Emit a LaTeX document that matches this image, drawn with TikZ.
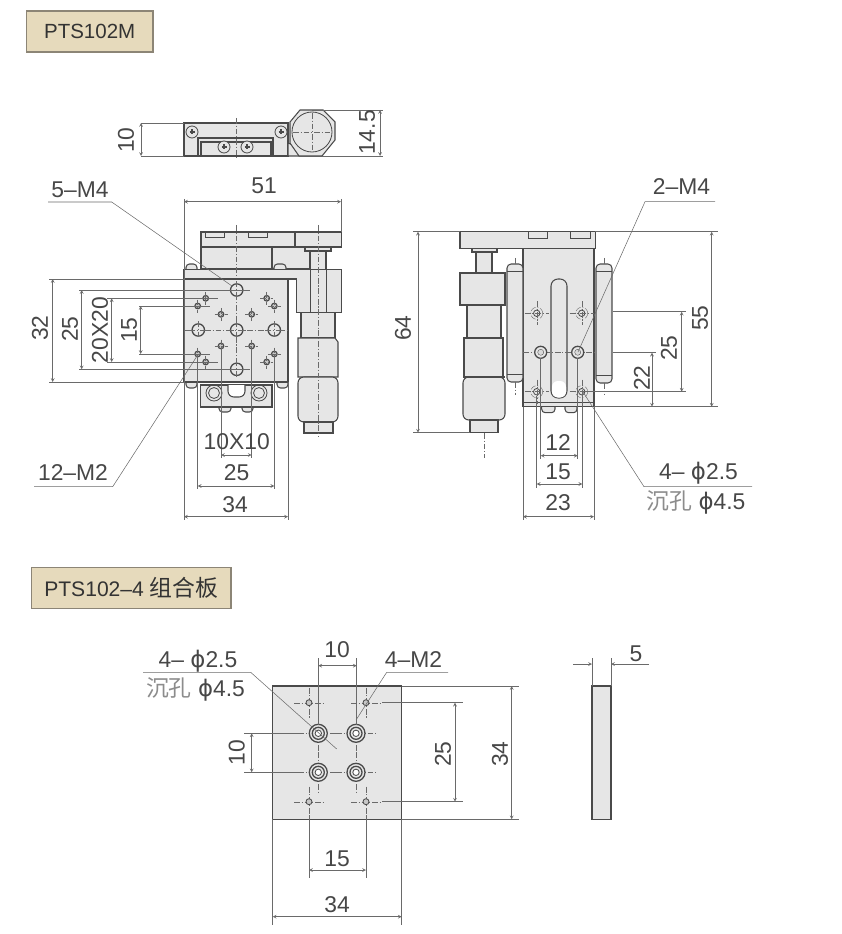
\documentclass[tikz,border=0pt]{standalone}
\usepackage{fontspec}
\setmainfont{Liberation Sans}
\newfontfamily\cjkfont{Noto Sans CJK SC}
\newfontfamily\symfont{DejaVu Sans}
\usetikzlibrary{arrows}
\definecolor{tagfill}{HTML}{E6DABC}
\definecolor{tagline}{HTML}{8C8576}
\definecolor{partfill}{HTML}{E6E6E6}
\definecolor{partline}{HTML}{4A4A4A}
\definecolor{dimcolor}{HTML}{6A6A6A}
\tikzstyle{tag} = [draw=tagline, line width=1.2pt, fill=tagfill, anchor=west, text=black!80, font=\fontsize{17.5}{20}\selectfont, inner sep=0, minimum height=34.8pt]
\tikzstyle{part} = [draw=partline, line width=0.9pt, fill=partfill]
\tikzstyle{edgeline} = [draw=partline, line width=0.7pt]
\tikzstyle{dimline} = [draw=dimcolor, line width=0.45pt, stealth-stealth]
\tikzstyle{extline} = [draw=dimcolor, line width=0.45pt]
\tikzstyle{centerline} = [draw=dimcolor, line width=0.35pt, dash pattern=on 5pt off 1.5pt on 1pt off 1.5pt]
\tikzstyle{dimtext} = [text=black!72, font=\fontsize{19.5}{22}\selectfont, inner sep=0]
\tikzstyle{dimup} = [dimtext, rotate=90]
\tikzstyle{holelarge} = [draw=partline, line width=1.1pt, fill=partfill]
\tikzstyle{holesmall} = [draw=partline, line width=1pt, fill=black!22]
\newcommand{\crossmark}[3]{\draw[centerline] (#1-#3,#2) -- (#1+#3,#2) (#1,#2-#3) -- (#1,#2+#3);}
\begin{document}
\begin{tikzpicture}[x=0.03cm, y=-0.03cm]
\useasboundingbox (0,0) rectangle (841,934);

% Title tags

\node[tag, minimum width=108pt] (tagslide) at (25.7,31.5) {PTS102M};
\node[tag, minimum width=170pt, font=\fontsize{18}{20}\selectfont] (tagplate) at (31,588) {PTS102--4 {\fontsize{19.5}{20}\selectfont\cjkfont 组合板}};

% Top view

\draw[part] (184,123) -- (288,123) -- (288,156) -- (184,156) -- cycle;
\draw[part] (198,138) rectangle (273,156);
\draw[part] (201,142) rectangle (271,156);
\draw[part] (288,143) -- (322,156) -- (288,156) -- cycle;
\draw[part] (300,110) -- (323,110) -- (335,122) -- (335,140) -- (322,156) -- (299,156) -- (290,143) -- (290,122) -- cycle;
\draw[edgeline] (312,132) circle (20);
\foreach \px/\py in {192/132, 281/132, 224/147, 247/147} {
  \draw[holelarge, line width=0.7pt] (\px,\py) circle (6);
  \draw[partline, line width=1pt] (\px-2.5,\py) -- (\px+2.5,\py) (\px,\py-2.5) -- (\px,\py+2.5);
}
\draw[centerline] (236.7,118) -- (236.7,160);
\crossmark{312}{132}{19}

% Front view, fixed part and stage

\draw[part] (201,232) rectangle (295,247);
\draw[part] (295,232) rectangle (341.7,247);
\draw[edgeline] (205,232) -- (205,237) -- (224,237) -- (224,232) (248,232) -- (248,237) -- (267,237) -- (267,232);
\draw[part] (201,247) rectangle (272,269);
\draw[part] (272,247) rectangle (310,269);
\draw[part] (305,247) rectangle (331,251);
\draw[part, rounded corners=3pt] (186,269) -- (186,264) -- (197,264) -- (197,269);
\draw[part, rounded corners=3pt] (274,269) -- (274,264) -- (286,264) -- (286,269);
\draw[part] (310,251) rectangle (326,270);
\draw[part] (184,269.3) -- (341.7,269.3) -- (341.7,312.7) -- (296.7,312.7) -- (296.7,279) -- (184,279) -- cycle;
\draw[edgeline] (310,269.3) -- (310,312.7) (326,269.3) -- (326,312.7);

% Front view, micrometer

\draw[part] (301,312.7) rectangle (335,338);
\draw[part] (298,338) -- (335,338) -- (338,342) -- (338,377) -- (298,377) -- (298,342) -- cycle;
\draw[part, rounded corners=5pt] (298,377) -- (338,377) -- (338,422) -- (298,422) -- cycle;
\draw[part] (304,422) -- (333,422) -- (333,433) -- (304,433) -- cycle;
\draw[centerline] (317.7,225) -- (317.7,437);

% Front view, lower block

\draw[part, rounded corners=3pt] (186,382) -- (186,388) -- (197,388) -- (197,382);
\draw[part, rounded corners=3pt] (277,382) -- (277,388) -- (288,388) -- (288,382);
\draw[part, rounded corners=3pt] (219,405) -- (219,412) -- (231,412) -- (231,405);
\draw[part, rounded corners=3pt] (242,405) -- (242,412) -- (253,412) -- (253,405);
\draw[part] (200.7,385) rectangle (272,407);
\draw[part, fill=white, rounded corners=5pt] (228,385) -- (228,397) -- (245,397) -- (245,385);
\foreach \px in {214,259} {
  \draw[edgeline] (\px,393) circle (8);
  \draw[edgeline] (\px,393) circle (5.5);
}

% Front view, top plate and holes

\draw[part] (184,279) rectangle (288,382);
\draw[centerline] (236.7,225) -- (236.7,277);
\draw[centerline] (236.7,284) -- (236.7,376);
\draw[centerline] (184,330) -- (288,330);
\foreach \px/\py in {236.7/290, 236.7/369.3, 198.3/330, 274.3/330, 236.7/330} {
  \draw[holelarge] (\px,\py) circle (6.2);
  \crossmark{\px}{\py}{9}
}
\foreach \px/\py in {205.7/298.3, 197.7/306, 221/314.3, 251.7/314.3, 266.7/298.3, 274.3/306, 221/346, 251.7/346, 197.7/354, 205.7/362, 266.7/362, 274.3/354} {
  \draw[holesmall] (\px,\py) circle (2.8);
  \crossmark{\px}{\py}{6.5}
}

% Front view, dimensions

\draw[extline] (184,199) -- (184,520) (341,199) -- (341,232);
\draw[dimline] (184,201.7) -- (341,201.7);
\node[dimtext] (dimwidth) at (264,186) {51};
\draw[extline] (49,279) -- (184,279) (49,382) -- (184,382);
\draw[dimline] (52.7,279) -- (52.7,382);
\node[dimup] (dimdepth) at (40,328) {32};
\draw[extline] (79,290) -- (250,290) (79,369.3) -- (250,369.3);
\draw[dimline] (81.7,290) -- (81.7,369.3);
\node[dimup] (dimpitchy) at (70,329) {25};
\draw[extline] (107,298.3) -- (218,298.3) (107,362) -- (218,362);
\draw[dimline] (111.7,298.3) -- (111.7,362);
\node[dimup] (dimgrid) at (100,330) {20X20};
\draw[extline] (139,306) -- (210,306) (139,354) -- (210,354);
\draw[dimline] (140.7,306) -- (140.7,354);
\node[dimup] (dimsmall) at (129,330) {15};
\draw[extline] (221,346) -- (221,458) (251.7,346) -- (251.7,458);
\draw[dimline] (221,455) -- (251.7,455);
\node[dimtext] (dimgridx) at (236.7,441.7) {10X10};
\draw[extline] (197.7,354) -- (197.7,489) (274.3,354) -- (274.3,489);
\draw[dimline] (197.7,486) -- (274.3,486);
\node[dimtext] (dimpitchx) at (236.7,473) {25};
\draw[extline] (288,382) -- (288,520);
\draw[dimline] (184,516.7) -- (288,516.7);
\node[dimtext] (dimside) at (235,504.5) {34};
\draw[extline] (141,123) -- (184,123) (141,156) -- (184,156);
\draw[dimline] (141,123) -- (141,156);
\node[dimup] (dimthick) at (126,140) {10};
\draw[extline] (312,110) -- (383,110) (322,156) -- (383,156);
\draw[dimline] (380,110) -- (380,156);
\node[dimup] (dimheight) at (367,132.5) {14.5};

% Front view, callouts

\node[dimtext] (callfive) at (80,190) {5--M4};
\coordinate (callfiveelbow) at (111.7,202);
\coordinate (callfivetip) at (232,286);
\draw[extline] (48,202) -- (callfiveelbow) -- (callfivetip);
\node[dimtext] (calltwelve) at (73,473) {12--M2};
\coordinate (calltwelveelbow) at (112.7,486.7);
\coordinate (calltwelvetip) at (197.7,355);
\draw[extline] (34,486.7) -- (calltwelveelbow) -- (calltwelvetip);

% Side view, micrometer

\draw[part] (472,248) rectangle (497,252);
\draw[part] (476,252) rectangle (492,273);
\draw[part] (460,273) rectangle (505,305);
\draw[part] (467,305) rectangle (501,338);
\draw[part] (464,338) rectangle (503,377);
\draw[part, rounded corners=5pt] (463,377) -- (505,377) -- (505,420) -- (463,420) -- cycle;
\draw[part] (470,420) -- (498,420) -- (498,432.7) -- (470,432.7) -- cycle;
\draw[line width=1.4pt, draw=partline] (463,377) -- (505,377);
\draw[centerline] (484,433) -- (484,458);

% Side view, body

\draw[part] (460,231.7) rectangle (595.7,248.3);
\draw[edgeline] (528,232) -- (528,238) -- (547,238) -- (547,232) (570,232) -- (570,238) -- (590,238) -- (590,232);
\draw[part, rounded corners=3pt] (541.7,405) -- (541.7,412.7) -- (555,412.7) -- (555,405);
\draw[part, rounded corners=3pt] (565,405) -- (565,412.7) -- (577,412.7) -- (577,405);
\draw[part] (523,248.3) rectangle (594,406.7);
\draw[edgeline] (523,402) -- (594,402);
\draw[part, rounded corners=3.5pt] (507,264) rectangle (523,382);
\draw[part, rounded corners=3.5pt] (596,264) rectangle (612,383);
\draw[edgeline] (507,271) -- (523,271) (507,374) -- (523,374) (596,271) -- (612,271) (596,375) -- (612,375);
\draw[part, rounded corners=6pt] (551,279) rectangle (567,398);
\draw[part, draw=none, fill=white, rounded corners=5pt] (552,381) rectangle (566,397.5);
\draw[centerline] (515,258) -- (515,264) (604,258) -- (604,264) (515,382) -- (515,395) (604,383) -- (604,395);
\draw[centerline] (523,352.3) -- (594,352.3);
\foreach \px/\py in {536.7/313.3, 581.7/313.3, 536.7/391.7, 581.7/391.7} {
  \draw[centerline] (\px,\py) circle (6);
  \draw[edgeline] (\px,\py) circle (3.2);
  \crossmark{\px}{\py}{12}
}
\foreach \px in {540.7,577.7} {
  \draw[holelarge] (\px,352.3) circle (6);
  \draw[fill=black!15, draw=partline, line width=0.3pt] (\px,352.3) circle (3);
}

% Side view, dimensions

\draw[extline] (413,231.7) -- (460,231.7) (413,432.7) -- (470,432.7);
\draw[dimline] (418,231.7) -- (418,432.7);
\node[dimup] (dimtotal) at (403,328) {64};
\draw[extline] (595,231.7) -- (718,231.7) (594,406.7) -- (718,406.7);
\draw[dimline] (711.7,231.7) -- (711.7,406.7);
\node[dimup] (dimrail) at (700,318) {55};
\draw[extline] (613,311.7) -- (686,311.7) (586,391.7) -- (686,391.7);
\draw[dimline] (681.7,311.7) -- (681.7,391.7);
\node[dimup] (dimholes) at (669,348) {25};
\draw[extline] (613,352.7) -- (656,352.7);
\draw[dimline] (652,352.7) -- (652,406.7);
\node[dimup] (dimfoot) at (642,378) {22};
\draw[extline] (540.7,358) -- (540.7,459) (577.7,358) -- (577.7,459);
\draw[dimline] (540.7,455.7) -- (577.7,455.7);
\node[dimtext] (dimmfour) at (558,442.7) {12};
\draw[extline] (536.7,396) -- (536.7,488) (582.3,396) -- (582.3,488);
\draw[dimline] (536.7,484) -- (582.3,484);
\node[dimtext] (dimcbore) at (558,471.7) {15};
\draw[extline] (523,406.7) -- (523,520) (594,406.7) -- (594,520);
\draw[dimline] (523,516.7) -- (594,516.7);
\node[dimtext] (dimbody) at (558,503) {23};

% Side view, callouts

\node[dimtext] (calltwo) at (681.5,187) {2--M4};
\coordinate (calltwoelbow) at (645,201.7);
\coordinate (calltwotip) at (578,352);
\draw[extline] (715,201.7) -- (calltwoelbow) -- (calltwotip);
\node[dimtext] (callfour) at (698.5,473) {4-- {\symfont ϕ}2.5};
\node[dimtext] (callcbore) at (696,502) {{\color{black!45}\cjkfont 沉孔} {\symfont ϕ}4.5};
\coordinate (callfourelbow) at (644,486.7);
\coordinate (callfourtip) at (583,392);
\draw[extline] (752,486.7) -- (callfourelbow) -- (callfourtip);

% Mounting plate

\draw[part, line width=1.1pt] (272.7,686) rectangle (401.7,819.3);
\foreach \px/\py in {318.3/733.3, 356/733.3, 318.3/772.3, 356/772.3} {
  \crossmark{\px}{\py}{20}
  \draw[holelarge] (\px,\py) circle (9);
  \draw[holelarge] (\px,\py) circle (6);
  \draw[edgeline, fill=white] (\px,\py) circle (3.2);
}
\foreach \px/\py in {309/702.7, 366/702.7, 309/801.7, 366/801.7} {
  \crossmark{\px}{\py}{15}
  \draw[holesmall, line width=0.7pt] (\px,\py) circle (3);
}
\draw[part] (592,686) rectangle (611,819.3);

% Mounting plate, dimensions

\draw[extline] (318.3,658) -- (318.3,725) (356.7,658) -- (356.7,725);
\draw[dimline] (318.3,665.7) -- (356.7,665.7);
\node[dimtext] (dimtoppitch) at (337,650) {10};
\draw[extline] (244,733.3) -- (300,733.3) (244,772.3) -- (300,772.3);
\draw[dimline] (251.7,733.3) -- (251.7,772.3);
\node[dimup] (dimleftpitch) at (236.7,752.7) {10};
\draw[extline] (382,702.7) -- (463,702.7) (382,801.7) -- (463,801.7);
\draw[dimline] (455,702.7) -- (455,801.7);
\node[dimup] (dimrowpitch) at (443,754) {25};
\draw[extline] (401.7,686) -- (519,686) (401.7,819.3) -- (519,819.3);
\draw[dimline] (511.7,686) -- (511.7,819.3);
\node[dimup] (dimplatey) at (500,754) {34};
\draw[extline] (309,815) -- (309,878) (366,815) -- (366,878);
\draw[dimline] (309,870) -- (366,870);
\node[dimtext] (dimcolpitch) at (337,859) {15};
\draw[extline] (272.7,819.3) -- (272.7,925) (401.7,819.3) -- (401.7,925);
\draw[dimline] (272.7,916.7) -- (401.7,916.7);
\node[dimtext] (dimplatex) at (337,905) {34};
\draw[extline] (592,658) -- (592,686) (611,658) -- (611,686);
\draw[extline, -stealth] (573,664) -- (592,664);
\draw[extline, -stealth] (649,664) -- (611,664);
\node[dimtext] (dimplatethick) at (636,654) {5};

% Mounting plate, callouts

\node[dimtext] (callplatefour) at (198,660.7) {4-- {\symfont ϕ}2.5};
\node[dimtext] (callplatecbore) at (195.5,689) {{\color{black!45}\cjkfont 沉孔} {\symfont ϕ}4.5};
\coordinate (callplateelbow) at (250.7,672.3);
\coordinate (callplatetip) at (336.7,749);
\draw[extline] (143,672.3) -- (callplateelbow) -- (callplatetip);
\node[dimtext] (callplatetwo) at (413.5,659.7) {4--M2};
\coordinate (calltwoplateelbow) at (386.7,672.3);
\coordinate (calltwoplatetip) at (356,720);
\draw[extline] (448,672.3) -- (calltwoplateelbow) -- (calltwoplatetip);

\end{tikzpicture}
\end{document}
